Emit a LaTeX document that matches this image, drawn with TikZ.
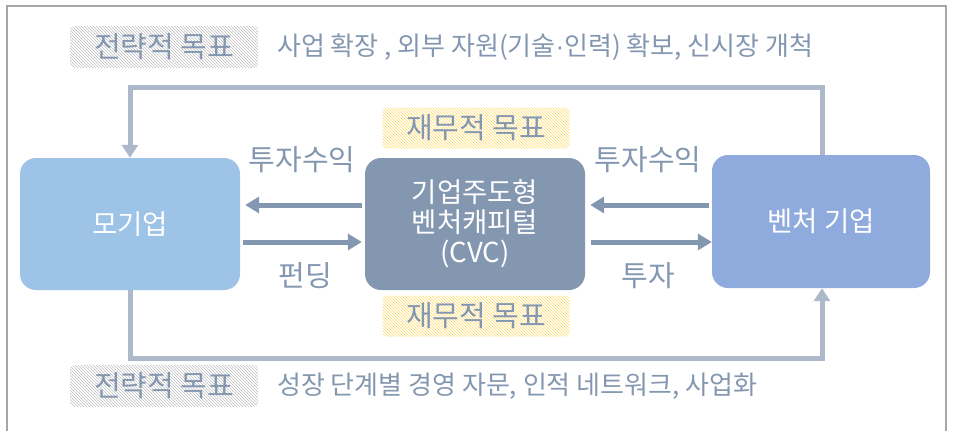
\documentclass[tikz,border=0pt]{standalone}
\usepackage{fontspec}
\setmainfont{Noto Sans CJK KR}
\newfontfamily\latinfont{Liberation Sans}
\usetikzlibrary{arrows.meta,patterns,calc}
\definecolor{txtc}{HTML}{8497B0}
\definecolor{loopc}{HTML}{ADB9CA}
\definecolor{parentc}{HTML}{9DC3E6}
\definecolor{cvcc}{HTML}{8497B0}
\definecolor{ventc}{HTML}{8FAADC}
\definecolor{framec}{HTML}{A6A6A6}
\definecolor{hatchg}{HTML}{BFBFBF}
\definecolor{hatchy}{HTML}{FFD966}
\tikzset{
  mainbox/.style={rounded corners=16pt, minimum width=220pt, minimum height=132pt, text=white, font=\fontsize{27.5}{30}\selectfont, align=center, inner sep=0pt},
  lbl/.style={text=txtc, font=\fontsize{29}{30}\selectfont, inner sep=0pt},
  longlbl/.style={text=txtc, font=\fontsize{26}{30}\selectfont, inner sep=0pt},
  hatchgray/.style={pattern=north west lines, pattern color=hatchg, rounded corners=4pt, minimum width=188pt, minimum height=42pt, text=txtc, font=\fontsize{29}{30}\selectfont, inner sep=0pt},
  hatchyel/.style={pattern=north west lines, pattern color=hatchy, rounded corners=4pt, minimum width=187pt, minimum height=41pt, text=txtc, font=\fontsize{29}{30}\selectfont, inner sep=0pt},
  flow/.style={draw=cvcc, line width=5pt, -{Triangle[length=14pt,width=16pt]}},
  loop/.style={draw=loopc, line width=5pt, -{Triangle[length=13pt,width=16pt]}},
}
\begin{document}
\begin{tikzpicture}[x=1pt,y=-1pt]
\useasboundingbox (0,0) rectangle (955,431);
\draw[framec, line width=1.2pt] (7,431) -- (7,6) -- (946,6) -- (946,431);

% main boxes
\node[mainbox, fill=parentc] (parent) at (130,224) {모기업};
\node[mainbox, fill=cvcc] (cvc) at (475,224) {기업주도형\\벤처캐피털\\(CVC)};
\node[mainbox, fill=ventc, minimum width=218pt, minimum height=133pt] (vent) at (821,221.5) {벤처 기업};

% strategic goal labels
\node[hatchgray] (sg1) at (164,47) {전략적 목표};
\node[longlbl, anchor=west] (st1) at (277,47) {사업 확장 , 외부 자원(기술{\latinfont ·}인력) 확보, 신시장 개척};
\node[hatchgray] (sg2) at (164,386) {전략적 목표};
\node[longlbl, anchor=west] (st2) at (277,386) {성장 단계별 경영 자문, 인적 네트워크, 사업화};

% financial goal labels
\node[hatchyel] (fg1) at (476,128) {재무적 목표};
\node[hatchyel] (fg2) at (476,316) {재무적 목표};

% loops
\coordinate (t1) at (822,87);
\coordinate (t2) at (130,87);
\draw[loop] (vent.north -| t1) -- (t1) -- (t2) -- (parent.north);
\coordinate (b1) at (130,358);
\coordinate (b2) at (822,358);
\draw[loop] (parent.south) -- (b1) -- (b2) -- (vent.south -| b2);

% flows
\draw[flow] ($(cvc.west)+(-3,-19)$) -- ($(parent.east)+(5,-19)$);
\draw[flow] ($(parent.east)+(3,18)$) -- ($(cvc.west)+(-3,18)$);
\draw[flow] ($(vent.west)+(-3,-16.5)$) -- ($(cvc.east)+(5,-19)$);
\draw[flow] ($(cvc.east)+(6,18)$) -- ($(vent.west)+(0,20.5)$);

\node[lbl] (l1) at (302,160) {투자수익};
\node[lbl] (l2) at (305,276) {펀딩};
\node[lbl] (l3) at (648,160) {투자수익};
\node[lbl] (l4) at (648,276) {투자};
\end{tikzpicture}
\end{document}
